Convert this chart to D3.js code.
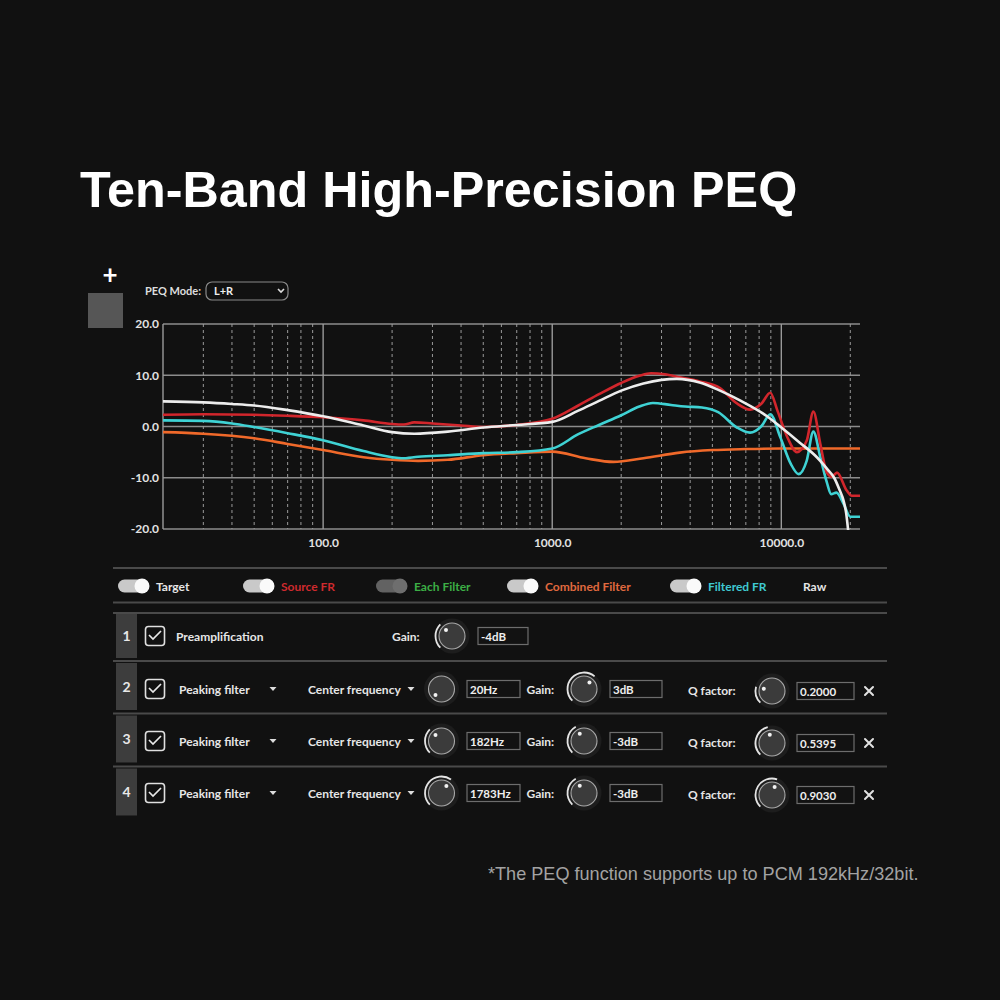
<!DOCTYPE html>
<html>
<head>
<meta charset="utf-8">
<script src="https://d3js.org/d3.v7.min.js"></script>
<style>
  body { margin: 0; background: #111; }
  text { font-family: Lato, "Noto Sans", sans-serif; }
</style>
</head>
<body>
<svg id="chart" width="1000" height="1000"></svg>
<script>
// frequency response curves: [Hz, dB]
const targetFR = [[20,4.9],[30,4.7],[40,4.4],[50,4.1],[70,3.2],[100,2.0],[150,0.2],[200,-1.1],[250,-1.4],[350,-1.0],[500,-0.2],[700,0.3],[1000,0.9],[1300,3.1],[1600,5.0],[2000,7.0],[2500,8.4],[3000,9.1],[3500,9.3],[4400,8.6],[5400,7.0],[6600,5.1],[8600,2.1],[10000,-0.2],[12000,-3.1],[14300,-6.0],[16000,-8.5],[17000,-10.0],[18000,-12.5],[18700,-14.5],[19200,-17.0],[19600,-20.5]]
const sourceFR = [[20,2.3],[30,2.4],[50,2.3],[70,2.1],[100,1.8],[150,1.2],[200,0.5],[225,0.4],[250,0.8],[300,0.6],[400,0.2],[500,-0.1],[700,0.3],[1000,1.5],[1300,4.1],[1600,6.3],[2000,8.5],[2400,9.9],[2700,10.4],[3100,10.2],[3600,9.6],[4400,8.8],[5400,7.5],[6400,4.5],[7300,3.3],[8200,4.5],[8950,6.6],[9600,3.2],[10600,-2.0],[11700,-5.0],[12900,-2.8],[13800,2.9],[14800,-3.4],[15800,-9.0],[16600,-9.8],[17500,-9.0],[19300,-12.5],[20300,-13.5],[22050,-13.5]]
const combinedFilter = [[20,-1.1],[30,-1.4],[50,-2.3],[70,-3.4],[100,-4.6],[150,-6.0],[200,-6.5],[260,-6.7],[350,-6.5],[500,-5.6],[700,-5.2],[1000,-4.9],[1400,-6.2],[1850,-6.9],[2500,-6.2],[3600,-5.1],[5000,-4.6],[7000,-4.4],[10000,-4.3],[22050,-4.3]]
const filteredFR = [[20,1.2],[30,1.1],[40,0.6],[50,-0.1],[70,-1.3],[100,-2.7],[150,-4.8],[200,-6.0],[220,-6.2],[260,-5.9],[350,-5.6],[500,-5.2],[700,-5.0],[1000,-4.3],[1300,-1.5],[1600,0.3],[2000,2.2],[2400,3.9],[2750,4.6],[3300,4.2],[3800,3.9],[4500,3.7],[5300,2.8],[6400,-0.2],[7300,-1.2],[8200,0.1],[8950,2.4],[9900,-2.1],[11000,-7.3],[11900,-9.3],[12900,-6.7],[13800,-1.0],[14800,-6.0],[15800,-10.9],[16500,-13.2],[17400,-12.9],[18700,-15.1],[20000,-17.6],[22050,-17.6]]

const yTicks = [20, 10, 0, -10, -20]
const xMajorTicks = [100, 1000, 10000]
const xMinorTicks = [30,40,50,60,70,80,90,200,300,400,500,600,700,800,900,2000,3000,4000,5000,6000,7000,8000,9000,20000]

const legendLabels = ["Target", "Source FR", "Each Filter", "Combined Filter", "Filtered FR", "Raw"]
const legendOn = [true, true, false, true, true, null]

const filterNums = ["2", "3", "4"]
const filterTypes = ["Peaking filter", "Peaking filter", "Peaking filter"]
const centerFreqs = ["20Hz", "182Hz", "1783Hz"]
const gains = ["3dB", "-3dB", "-3dB"]
const qFactors = ["0.2000", "0.5395", "0.9030"]
const preampGain = "-4dB"

// knob pointer angles (degrees from 12 o'clock) as drawn
const preampKnob = -45
const freqKnobs = [-135, -45, 35]
const gainKnobs = [40, -30, -30]
const qKnobs = [-75, -15, 18]

// ---- styles / layout
const curveColors = { target: "#ededed", source: "#d1262c", combined: "#f0692a", filtered: "#3fd2d4" }
const legendColors = ["#e6e6e6", "#cf2a2e", "#3cae45", "#e0693f", "#3fc9d1", "#e6e6e6"]
const legendX = [118, 243, 376, 507, 670, 803]

const svg = d3.select("#chart")
svg.append("rect").attr("width", 1000).attr("height", 1000).attr("fill", "#111")

// title
svg.append("text").attr("x", 80).attr("y", 207)
  .style("font-family", "'Liberation Sans', Arial, sans-serif")
  .attr("font-size", 50.3).attr("font-weight", "bold").attr("fill", "#fff")
  .text("Ten-Band High-Precision PEQ")

// top-left widgets
svg.append("text").attr("x", 110).attr("y", 284).attr("text-anchor", "middle")
  .attr("font-size", 26).attr("font-weight", "bold").attr("fill", "#fff").text("+")
svg.append("rect").attr("x", 88).attr("y", 293).attr("width", 35).attr("height", 35).attr("fill", "#565656")

svg.append("text").attr("x", 145).attr("y", 295).attr("font-size", 11).attr("font-weight", "bold")
  .attr("fill", "#ddd").text("PEQ Mode:")
svg.append("rect").attr("x", 206).attr("y", 282).attr("width", 82).attr("height", 18).attr("rx", 6)
  .attr("fill", "none").attr("stroke", "#8a8a8a").attr("stroke-width", 1.2)
svg.append("text").attr("x", 214).attr("y", 295).attr("font-size", 11).attr("font-weight", "bold")
  .attr("fill", "#eee").text("L+R")
svg.append("path").attr("d", "M278,289 l3,3 l3,-3").attr("fill", "none").attr("stroke", "#ddd").attr("stroke-width", 1.6)

// ---- plot
const x = d3.scaleLog().domain([20, 22050]).range([163, 860])
const y = d3.scaleLinear().domain([-20, 20]).range([529, 324])
const fmt = d => d.toFixed(1)

const grid = svg.append("g")
grid.selectAll(".hg").data(yTicks).join("line")
  .attr("x1", 163).attr("x2", 860).attr("y1", d => y(d)).attr("y2", d => y(d))
  .attr("stroke", "#8c8c8c").attr("stroke-width", 1.4)
grid.selectAll(".vmin").data(xMinorTicks).join("line")
  .attr("x1", d => x(d)).attr("x2", d => x(d)).attr("y1", y(20)).attr("y2", y(-20))
  .attr("stroke", "#9a9a9a").attr("stroke-width", 1).attr("stroke-dasharray", "3,3")
grid.selectAll(".vmaj").data([20].concat(xMajorTicks)).join("line")
  .attr("x1", d => x(d)).attr("x2", d => x(d)).attr("y1", y(20)).attr("y2", y(-20))
  .attr("stroke", "#9a9a9a").attr("stroke-width", 1.4)

const yAxis = d3.axisLeft(y).tickValues(yTicks).tickFormat(fmt).tickSize(0).tickPadding(4)
svg.append("g").attr("transform", "translate(163,0)").call(yAxis)
  .call(g => g.select(".domain").remove())
  .selectAll("text").attr("fill", "#e2e2e2").attr("font-size", 12).attr("font-weight", "bold")
  .style("font-family", "Lato, sans-serif")

const xAxis = d3.axisBottom(x).tickValues(xMajorTicks).tickFormat(fmt).tickSize(0).tickPadding(9)
svg.append("g").attr("transform", "translate(0,529)").call(xAxis)
  .call(g => g.select(".domain").remove())
  .selectAll("text").attr("fill", "#e2e2e2").attr("font-size", 12).attr("font-weight", "bold")
  .style("font-family", "Lato, sans-serif")

svg.append("clipPath").attr("id", "plotclip").append("rect")
  .attr("x", 163).attr("y", 322).attr("width", 697).attr("height", 208)

const line = d3.line().x(d => x(d[0])).y(d => y(d[1])).curve(d3.curveMonotoneX)
const curves = svg.append("g").attr("clip-path", "url(#plotclip)")
const series = [[combinedFilter, "combined"], [filteredFR, "filtered"], [sourceFR, "source"], [targetFR, "target"]]
series.forEach(([data, key]) => {
  curves.append("path").datum(data).attr("d", line)
    .attr("fill", "none").attr("stroke", curveColors[key]).attr("stroke-width", 2.6)
    .attr("stroke-linejoin", "round").attr("stroke-linecap", "round")
})

// ---- separators
const sepYs = [568, 602.5, 613, 661, 713.5, 766.5]
svg.selectAll(".sep").data(sepYs).join("line")
  .attr("x1", 113).attr("x2", 887).attr("y1", d => d).attr("y2", d => d)
  .attr("stroke", "#4a4a4a").attr("stroke-width", 2)

// ---- legend toggles
const legend = svg.append("g")
legendLabels.forEach((label, i) => {
  const lx = legendX[i]
  let tx = lx
  if (legendOn[i] !== null) {
    legend.append("rect").attr("x", lx).attr("y", 579.5).attr("width", 31).attr("height", 13).attr("rx", 6.5)
      .attr("fill", legendOn[i] ? "#c9c9c9" : "#626262")
    legend.append("circle").attr("cx", lx + 24).attr("cy", 586).attr("r", 7.5)
      .attr("fill", legendOn[i] ? "#fafafa" : "#6e6e6e")
    tx = lx + 38
  }
  legend.append("text").attr("x", tx).attr("y", 590.5).attr("font-size", 12).attr("font-weight", "bold")
    .attr("fill", legendColors[i]).text(label)
})

// ---- helpers
function numBox(n, yTop, yBot) {
  svg.append("rect").attr("x", 116).attr("y", yTop).attr("width", 21).attr("height", yBot - yTop).attr("fill", "#3d3d3d")
  svg.append("text").attr("x", 126.5).attr("y", (yTop + yBot) / 2 + 5).attr("text-anchor", "middle")
    .attr("font-size", 14).attr("font-weight", "bold").attr("fill", "#e8e8e8").text(n)
}
function checkbox(cy) {
  svg.append("rect").attr("x", 145.5).attr("y", cy - 9.5).attr("width", 19).attr("height", 19).attr("rx", 3)
    .attr("fill", "none").attr("stroke", "#e0e0e0").attr("stroke-width", 1.6)
  svg.append("path").attr("d", `M149,${cy - 1} l4,4 l8,-8`).attr("fill", "none")
    .attr("stroke", "#e8e8e8").attr("stroke-width", 1.7)
}
function label(tx, cy, t, size) {
  svg.append("text").attr("x", tx).attr("y", cy + 4.5).attr("font-size", size || 12).attr("font-weight", "bold")
    .attr("fill", "#e6e6e6").text(t)
}
function tri(tx, cy) {
  svg.append("path").attr("d", `M${tx - 3.5},${cy - 2} h7 l-3.5,4 z`).attr("fill", "#ddd")
}
function inputBox(bx, cy, w, t) {
  svg.append("rect").attr("x", bx).attr("y", cy - 8.5).attr("width", w).attr("height", 17)
    .attr("fill", "#121212").attr("stroke", "#6d6d6d").attr("stroke-width", 1.2)
  svg.append("text").attr("x", bx + 3).attr("y", cy + 4.5).attr("font-size", 11.5).attr("font-weight", "bold")
    .attr("fill", "#eee").text(t)
}
function closeMark(cx, cy) {
  svg.append("path").attr("d", `M${cx - 4},${cy - 4} l8,8 M${cx + 4},${cy - 4} l-8,8`)
    .attr("stroke", "#e2e2e2").attr("stroke-width", 2).attr("stroke-linecap", "round")
}
const arc = d3.arc().innerRadius(15.6).outerRadius(17.4)
function knob(cx, cy, deg) {
  const g = svg.append("g").attr("transform", `translate(${cx},${cy})`)
  g.append("circle").attr("r", 17.5).attr("fill", "#1d1d1d")
  if (deg > -135) {
    g.append("path").attr("d", arc({ startAngle: -135 * Math.PI / 180, endAngle: deg * Math.PI / 180 }))
      .attr("fill", "#e4e4e4")
  }
  g.append("circle").attr("r", 13).attr("fill", "#3b3b3b").attr("stroke", "#a8a8a8").attr("stroke-width", 1.1)
  const a = deg * Math.PI / 180
  g.append("circle").attr("cx", 8.5 * Math.sin(a)).attr("cy", -8.5 * Math.cos(a)).attr("r", 2).attr("fill", "#f2f2f2")
}

// ---- row 1: preamp
const row1Y = 636
numBox("1", 614, 658)
checkbox(row1Y)
label(176, row1Y, "Preamplification")
label(392, row1Y, "Gain:")
knob(452, row1Y, preampKnob)
inputBox(478, row1Y, 50, preampGain)

// ---- filter rows
const rowYs = [689, 741, 793]
const rowTops = [663, 715.5, 768.5]
filterNums.forEach((n, i) => {
  const cy = rowYs[i]
  numBox(n, rowTops[i], rowTops[i] + 47)
  checkbox(cy)
  label(179, cy, filterTypes[i])
  tri(273, cy)
  label(308, cy, "Center frequency")
  tri(411, cy)
  knob(441.5, cy, freqKnobs[i])
  inputBox(467, cy, 53, centerFreqs[i])
  label(526.5, cy, "Gain:")
  knob(584, cy, gainKnobs[i])
  inputBox(610, cy, 52, gains[i])
  label(688, cy + 1, "Q factor:")
  knob(772, cy + 2, qKnobs[i])
  inputBox(797, cy + 2, 57, qFactors[i])
  closeMark(869, cy + 2)
})

// footnote
svg.append("text").attr("x", 488).attr("y", 880)
  .style("font-family", "'Liberation Sans', Arial, sans-serif")
  .attr("font-size", 18.1).attr("fill", "#a3a3a3")
  .text("*The PEQ function supports up to PCM 192kHz/32bit.")
</script>
</body>
</html>
